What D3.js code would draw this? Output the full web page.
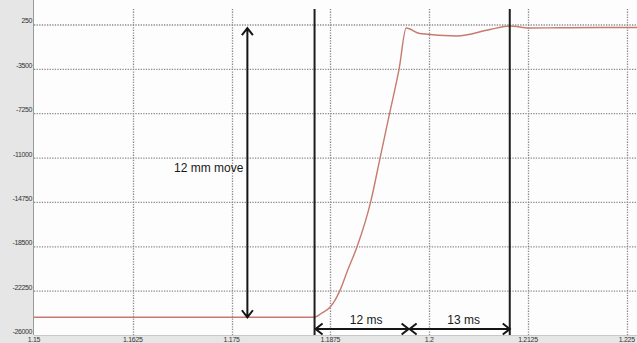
<!DOCTYPE html>
<html>
<head>
<meta charset="utf-8">
<script src="https://cdn.jsdelivr.net/npm/d3@7"></script>
<style>
  body { margin: 0; background: #fff; }
  svg { display: block; font-family: "Liberation Sans", Arial, sans-serif; }
</style>
</head>
<body>
<div id="chart"></div>
<script>
// position trace
var times = [1.15, 1.1855, 1.1864, 1.18745, 1.1881, 1.1887, 1.1897, 1.1909, 1.1926, 1.1938, 1.1950, 1.1962, 1.1971,
             1.1988, 1.2035, 1.2077, 1.2102, 1.2127, 1.2165, 1.2216, 1.2263]
var values = [-24500, -24500, -24150, -23650, -23050, -22250, -20500, -18500, -14750, -11000, -7250, -3500, -50,
              -510, -720, -170, 125, -45, -30, 0, 0]

var xTicks = [1.15, 1.1625, 1.175, 1.1875, 1.2, 1.2125, 1.225]
var yTicks = [250, -3500, -7250, -11000, -14750, -18500, -22250, -26000]

// annotations
var markerTimes = [1.1855, 1.2102]
var moveArrow = {t: 1.177, from: -24500, to: -50, label: "12 mm move"}
var spanArrows = [
  {from: 1.1855, to: 1.1974, label: "12 ms"},
  {from: 1.1974, to: 1.2102, label: "13 ms"}
]

var width = 637
var height = 343
var margin = {top: 9, right: 0, bottom: 8, left: 34}

var svg = d3.select("#chart")
  .append("svg")
  .attr("width", width)
  .attr("height", height)

// grey frame around the plot
svg.append("rect").attr("x", 0).attr("y", 0).attr("width", width).attr("height", height).style("fill", "#e6e6e6")
svg.append("rect")
  .attr("x", margin.left).attr("y", 0)
  .attr("width", width - margin.left).attr("height", height - margin.bottom)
  .style("fill", "#fdfdfd")

var x = d3.scaleLinear()
  .domain([1.15, 1.2263])
  .range([margin.left, width - margin.right])

var y = d3.scaleLinear()
  .domain([-26000, 1560])
  .range([height - margin.bottom, margin.top])

// grid
svg.append("g")
  .selectAll("line")
  .data(yTicks.filter(function(d) { return d > -26000 }))
  .enter()
  .append("line")
  .attr("x1", margin.left).attr("x2", width)
  .attr("y1", function(d) { return y(d) + 0.5 })
  .attr("y2", function(d) { return y(d) + 0.5 })
  .style("stroke", "#8a8a8a")
  .style("stroke-width", 1.3)
  .style("stroke-dasharray", "1.3,1.3")

svg.append("g")
  .selectAll("line")
  .data(xTicks.slice(1))
  .enter()
  .append("line")
  .attr("x1", function(d) { return Math.round(x(d)) + 0.5 })
  .attr("x2", function(d) { return Math.round(x(d)) + 0.5 })
  .attr("y1", margin.top).attr("y2", height - margin.bottom)
  .style("stroke", "#8a8a8a")
  .style("stroke-width", 1.3)
  .style("stroke-dasharray", "1.3,1.3")

// axes lines
svg.append("line")
  .attr("x1", margin.left - 0.5).attr("x2", margin.left - 0.5)
  .attr("y1", 0).attr("y2", height - margin.bottom)
  .style("stroke", "#9a9a9a")
svg.append("line")
  .attr("x1", margin.left).attr("x2", width)
  .attr("y1", height - margin.bottom + 0.5).attr("y2", height - margin.bottom + 0.5)
  .style("stroke", "#c8c8c8")

// tick labels
svg.append("g")
  .selectAll("text")
  .data(yTicks)
  .enter()
  .append("text")
  .attr("x", margin.left - 2)
  .attr("y", function(d) { return y(d) - 1 })
  .text(function(d) { return d })
  .style("font-size", "7px")
  .style("letter-spacing", "-0.4px")
  .style("fill", "#333")
  .style("text-anchor", "end")

svg.append("g")
  .selectAll("text")
  .data(xTicks)
  .enter()
  .append("text")
  .attr("x", function(d) { return x(d) })
  .attr("y", height - 1)
  .text(function(d) { return d })
  .style("font-size", "7px")
  .style("letter-spacing", "-0.3px")
  .style("fill", "#333")
  .style("text-anchor", "middle")

// trace
var line = d3.line()
  .x(function(d, i) { return x(times[i]) })
  .y(function(d) { return y(d) })
  .curve(d3.curveMonotoneX)

svg.append("path")
  .attr("d", line(values))
  .style("fill", "none")
  .style("stroke", "#c67b6f")
  .style("stroke-width", 1.4)

// vertical marker lines
svg.append("g")
  .selectAll("line")
  .data(markerTimes)
  .enter()
  .append("line")
  .attr("x1", function(d) { return x(d) })
  .attr("x2", function(d) { return x(d) })
  .attr("y1", margin.top).attr("y2", height - margin.bottom)
  .style("stroke", "#1e1e1e")
  .style("stroke-width", 2)

// arrows
var ink = "#151515"
function head(tx, ty, dx, dy) {
  // chevron pointing in direction (dx,dy)
  var len = 7, half = 5.5
  var bx = tx - dx * len, by = ty - dy * len
  return "M" + (bx - dy * half) + "," + (by + dx * half) +
    "L" + tx + "," + ty +
    "L" + (bx + dy * half) + "," + (by - dx * half)
}

var ax = x(moveArrow.t)
var ay1 = y(moveArrow.to), ay2 = y(moveArrow.from)
svg.append("path")
  .attr("d", "M" + ax + "," + ay1 + "L" + ax + "," + ay2 + head(ax, ay1, 0, -1) + head(ax, ay2, 0, 1))
  .style("fill", "none").style("stroke", ink).style("stroke-width", 2)

svg.append("text")
  .attr("x", ax - 4).attr("y", y(-11000) + 14)
  .text(moveArrow.label)
  .style("font-size", "12px")
  .style("fill", "#1a1a1a")
  .style("text-anchor", "end")

var hy = y(-25500)
spanArrows.forEach(function(a) {
  var x1 = x(a.from) + 1, x2 = x(a.to)
  svg.append("path")
    .attr("d", "M" + x1 + "," + hy + "L" + x2 + "," + hy + head(x1, hy, -1, 0) + head(x2, hy, 1, 0))
    .style("fill", "none").style("stroke", ink).style("stroke-width", 2)
  svg.append("text")
    .attr("x", (x1 + x2) / 2 + 4).attr("y", hy - 5)
    .text(a.label)
    .style("font-size", "12px")
    .style("fill", "#1a1a1a")
    .style("text-anchor", "middle")
})
</script>
</body>
</html>
